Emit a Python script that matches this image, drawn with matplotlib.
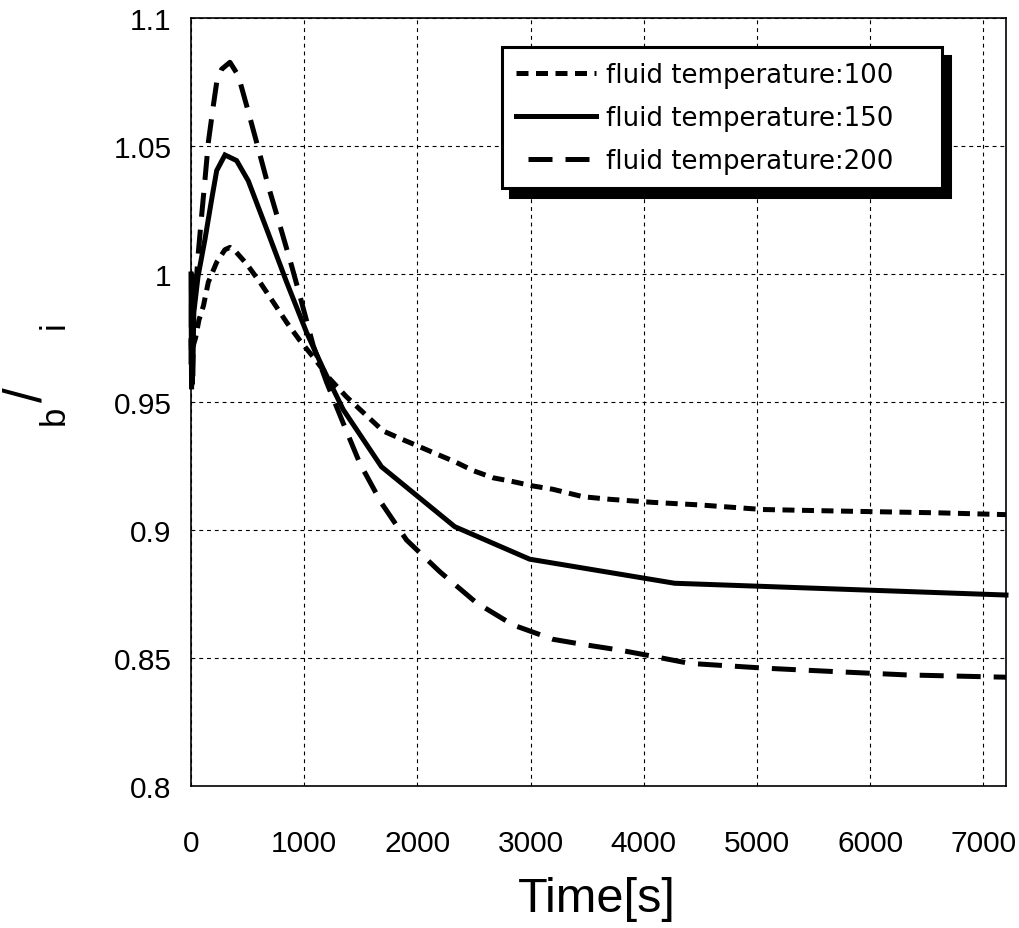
import matplotlib
matplotlib.use("Agg")
import matplotlib.pyplot as plt
from matplotlib.patches import Shadow

plt.rcParams['font.family'] = ['Liberation Sans', 'DejaVu Sans']

# Stress ratio histories for three fluid temperatures
t_100 = [0, 10, 20, 40, 70, 110, 153, 227, 300, 344, 400, 492, 609, 727, 845,
         962, 1094, 1227, 1374, 1536, 1697, 1845, 2021, 2168, 2330, 2492,
         2668, 2845, 3021, 3198, 3463, 3698, 4077, 4492, 5051, 5728, 6611, 7200]
r_100 = [0.975, 0.958, 0.972, 0.975, 0.982, 0.9876, 0.9968, 1.0046, 1.0095,
         1.0104, 1.0085, 1.0039, 0.9968, 0.989, 0.9811, 0.974, 0.9668, 0.959,
         0.952, 0.9453, 0.9387, 0.9358, 0.9325, 0.9297, 0.9267, 0.9232,
         0.9204, 0.9189, 0.9172, 0.9159, 0.913, 0.912, 0.9108, 0.9098, 0.908,
         0.9074, 0.9067, 0.906]

t_150 = [0, 5, 10, 15, 25, 62, 124, 183, 227, 300, 403, 506, 668, 845, 1021,
         1168, 1345, 1683, 2330, 2992, 4272, 7200]
r_150 = [1.0, 0.955, 0.998, 0.96, 0.985, 0.999, 1.0137, 1.0293, 1.0404,
         1.0465, 1.0443, 1.0364, 1.0176, 0.9968, 0.9772, 0.963, 0.947,
         0.9247, 0.9013, 0.8886, 0.8792, 0.8746]

t_200 = [0, 5, 10, 18, 35, 65, 94, 124, 153, 197, 227, 271, 344, 418, 492,
         580, 682, 786, 889, 977, 1080, 1198, 1345, 1492, 1683, 1904, 2198,
         2521, 2845, 3198, 3463, 3786, 4100, 4404, 5081, 5728, 6317, 6993, 7200]
r_200 = [0.96, 1.0, 0.957, 0.99, 0.990, 1.0085, 1.0228, 1.0371, 1.0514,
         1.0657, 1.0749, 1.080, 1.0827, 1.0775, 1.0657, 1.0514, 1.0345,
         1.0189, 1.0032, 0.989, 0.972, 0.9577, 0.9417, 0.926, 0.9105,
         0.8961, 0.8837, 0.8716, 0.8629, 0.8573, 0.8553, 0.8531, 0.8505,
         0.8479, 0.846, 0.8446, 0.8434, 0.8427, 0.8425]

labels = ['fluid temperature:100', 'fluid temperature:150',
          'fluid temperature:200']
x_ticks = [0, 1000, 2000, 3000, 4000, 5000, 6000, 7000]
y_ticks = [0.8, 0.85, 0.9, 0.95, 1.0, 1.05, 1.1]
y_tick_labels = ['0.8', '0.85', '0.9', '0.95', '1', '1.05', '1.1']

fig = plt.figure(figsize=(10.2, 9.29), dpi=100)
ax = fig.add_axes([0.18725, 0.15285, 0.79902, 0.82670])

lw = 3.6
ax.plot(t_100, r_100, color='black', lw=lw, solid_capstyle='butt',
        dash_capstyle='butt', linestyle=(0, (2.4, 1.5)), label=labels[0],
        clip_on=False, zorder=3)
ax.plot(t_150, r_150, color='black', lw=lw, solid_joinstyle='miter',
        label=labels[1], clip_on=False, zorder=3)
ax.plot(t_200, r_200, color='black', lw=lw, dash_capstyle='butt',
        linestyle=(5.0, (4.8, 2.6)), label=labels[2], clip_on=False, zorder=3)

ax.set_xlim(0, 7200)
ax.set_ylim(0.8, 1.1)
ax.set_xticks(x_ticks)
ax.set_yticks(y_ticks)
ax.set_yticklabels(y_tick_labels)
ax.tick_params(axis='both', length=0, labelsize=21.5, colors='black')
ax.tick_params(axis='x', pad=31)
ax.tick_params(axis='y', pad=14)

ax.grid(True, color='black', lw=0.8, linestyle=(0, (3.5, 3.5)), zorder=1)
ax.set_axisbelow(True)
for sp in ax.spines.values():
    sp.set_linewidth(1.2)
    sp.set_color('black')

ax.set_xlabel('Time[s]', fontsize=35)
ax.xaxis.set_label_coords(0.4985, -0.1175)
ax.xaxis.label.set_va('top')

# Ratio label on the vertical axis
fig.text(28 / 1020, 1 - 395 / 929, '/', rotation=90, fontsize=38,
         ha='center', va='center')
fig.text(54 / 1020, 1 - 415 / 929, 'b', rotation=90, fontsize=25,
         ha='center', va='center')
fig.text(54 / 1020, 1 - 325 / 929, 'i', rotation=90, fontsize=25,
         ha='center', va='center')

leg = ax.legend(loc='upper left', bbox_to_anchor=(0.381, 0.7816, 0.540, 0.1802),
                mode='expand', borderaxespad=0, fancybox=False,
                prop={'family': 'DejaVu Sans', 'size': 18.7},
                handlelength=3.1, handletextpad=0.38, borderpad=0.55,
                labelspacing=0.66, framealpha=1)
frame = leg.get_frame()
frame.set_edgecolor('black')
frame.set_linewidth(2.2)
leg.set_zorder(5)

fig.canvas.draw()
shadow = Shadow(leg.legendPatch, 5.8, -6.5, facecolor='black',
                edgecolor='black', alpha=1)
shadow.set_zorder(4.9)
shadow.set_clip_on(False)
ax.add_artist(shadow)

fig.savefig('out.png', dpi=100)
